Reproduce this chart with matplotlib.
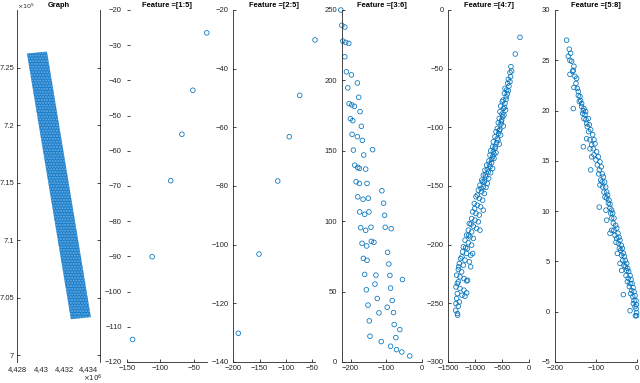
import matplotlib
matplotlib.use("Agg")
import matplotlib.pyplot as plt
from matplotlib.ticker import FuncFormatter

plt.rcParams['font.family'] = ['Liberation Sans', 'DejaVu Sans']

# --- data ---
# Graph: outline of the dense grid of coordinates (x ~ 1e6, y ~ 1e5)
band_x = [4428819, 4430508, 4434224, 4432535]
band_y = [726214, 726387, 703298, 703125]

# Feature =[1:5]
f15_x = [-141.2, -112.3, -84.8, -68.2, -52.0, -31.4]
f15_y = [-113.6, -90.1, -68.5, -55.3, -42.8, -26.5]

# Feature =[2:5]
f25_x = [-190.5, -151.2, -115.7, -93.7, -74.0, -45.0]
f25_y = [-130.2, -103.2, -78.3, -63.2, -49.1, -30.2]

# Feature =[3:6]
f36_x = [-227.5, -224.7, -221.9, -216.3, -211.7, -207.9, -204.2, -200.5, -195.8, -192.1, -188.3,
         -184.6, -179.9, -174.4, -171.6, -167.8, -164.1, -160.4, -155.7, -151.0, -147.3, -145.5,
         -216.3, -213.5, -205.1, -197.7, -196.7, -189.3, -193.9, -180.9, -179.9, -175.3, -175.3,
         -165.0, -160.4, -157.6, -154.8, -153.8,
         -180.9, -177.2, -173.4, -169.7, -166.9, -163.2, -157.6, -153.8, -150.1, -148.3, -142.7, -141.7,
         -138.0, -111.9, -107.2, -104.4, -102.6, -85.8, -134.3, -96.0, -92.3, -128.7, -89.5, -54.1,
         -131.5, -87.6, -124.9, -83.0, -97.0, -120.3, -79.3, -77.4, -61.5, -113.8, -72.7, -87.6,
         -70.9, -55.9, -33.6]
f36_y = [250.0, 239.1, 227.9, 216.8, 206.1, 194.7, 183.5, 172.8, 161.7, 150.5, 139.8,
         128.0, 117.3, 106.6, 95.4, 84.3, 73.6, 62.2, 51.3, 40.4, 29.2, 18.3,
         237.9, 227.0, 226.3, 203.9, 182.6, 181.6, 171.4, 160.0, 138.2, 137.5, 126.8,
         115.6, 104.9, 93.5, 82.4, 72.2,
         198.2, 188.0, 177.8, 167.4, 157.4, 147.0, 137.0, 126.8, 116.3, 106.6, 95.7, 85.7,
         150.8, 121.6, 112.8, 104.2, 95.7, 94.7, 85.0, 77.9, 69.6, 61.7, 61.5, 58.6,
         55.3, 52.5, 45.1, 43.7, 38.9, 34.9, 35.1, 26.6, 23.0, 14.5, 17.3, 11.2,
         8.8, 7.1, 4.3]

# Feature =[4:7]
f47_x = [-173, -259, -340, -327, -358, -389, -358, -401, -451, -420, -389, -463, -426, -488,
         -500, -451, -531, -481, -438, -543, -506, -469, -556, -512, -574, -525, -481, -593,
         -543, -617, -568, -531, -636, -593, -667, -605, -556, -679, -636, -716, -667, -617,
         -728, -679, -654, -747, -698, -790, -728, -679, -821, -759, -716, -852, -803, -753,
         -883, -833, -778, -914, -852, -803, -944, -883, -833, -988, -926, -864, -1019, -963,
         -901, -852, -1049, -988, -926, -1068, -1006, -944, -1111, -1037, -975, -1130, -1068,
         -914, -1161, -1099, -1037, -1191, -1130, -1068, -1222, -1148, -1235, -1161, -1086,
         -1049, -1272, -1191, -1111, -1296, -1222, -1086, -1315, -1253, -1346, -1284, -1210,
         -1161, -1315, -1358, -1284, -1210, -1333, -1247, -1191, -1346, -1296, -1315, -1364,
         -1333, -1327,
         -346, -377, -407, -432, -457, -494, -519, -556, -580, -630, -654, -698, -741, -778,
         -815, -864, -895, -963, -1012, -1080, -1124, -1179, -1247, -1309, -1333, -1358,
         -1161, -1142]
f47_y = [-23.3, -37.5, -48.3, -52.0, -53.2, -59.1, -61.1, -62.5, -66.8, -68.2, -68.8, -71.1,
         -73.9, -76.8, -78.2, -79.6, -81.9, -83.9, -85.3, -86.7, -88.7, -89.6, -92.4, -93.8,
         -96.1, -97.2, -98.9, -100.9, -101.8, -103.8, -105.2, -106.6, -108.0, -109.5, -112.3,
         -113.2, -114.3, -116.6, -118.0, -120.0, -120.8, -121.7, -123.7, -125.1, -126.5,
         -128.5, -130.2, -132.2, -133.6, -135.0, -136.5, -137.9, -138.7, -140.7, -142.2,
         -143.6, -145.0, -146.4, -147.8, -149.3, -150.7, -151.2, -153.5, -154.9, -156.4,
         -159.2, -160.6, -162.1, -164.9, -166.3, -167.7, -170.6, -172.0, -173.4, -174.8,
         -177.7, -179.1, -180.5, -182.0, -184.2, -186.2, -187.6, -189.1, -187.6, -191.9,
         -193.3, -194.7, -196.2, -198.4, -200.4, -201.9, -203.3, -206.1, -207.5, -209.0,
         -207.5, -211.8, -213.2, -214.6, -216.1, -217.5, -218.9, -221.2, -223.2, -226.0,
         -227.4, -228.9, -230.9, -231.7, -236.0, -237.4, -238.8, -241.7, -243.1, -243.9,
         -245.9, -248.8, -252.5, -255.9, -258.7, -260.1,
         -56.9, -64.8, -71.6, -76.2, -83.0, -91.0, -95.2, -102.9, -110.9, -116.6, -122.8,
         -127.4, -131.3, -135.9, -140.7, -146.4, -152.1, -157.8, -169.2, -182.5, -191.9,
         -202.4, -210.4, -218.9, -233.1, -250.2, -241.1, -230.3]

# Feature =[5:8]
f58_x = [-171.6, -165.0, -167.5, -161.8, -163.4, -163.4, -153.6, -155.2, -151.1, -147.1, -153.6,
         -145.4, -143.0, -138.9, -137.3, -140.5, -155.2, -134.8, -130.7, -132.4, -126.6, -124.2,
         -129.1, -122.6, -120.9, -117.6, -122.6, -114.4, -110.3, -114.4, -106.2, -130.7, -104.6,
         -110.3, -99.7, -112.7, -96.4, -91.5, -93.1, -88.2, -85.0, -89.9, -83.3, -80.1, -91.5,
         -77.6, -73.5, -69.4, -75.2, -65.4, -63.7, -73.5, -61.3, -57.2, -61.3, -55.6, -65.4,
         -53.1, -49.0, -50.7, -44.9, -42.5, -47.4, -39.2, -36.8, -40.9, -34.3, -31.0, -36.8,
         -27.8, -24.5, -26.1, -20.4, -22.9, -16.3, -18.0, -12.3, -14.7, -32.7, -9.8, -6.5,
         -8.2, -4.1, -16.3, -1.6, -0.3, -0.5, -3.3,
         -159.3, -156.9, -148.7, -143.0, -134.8, -129.1, -125.0, -118.5, -116.0, -112.7, -107.8,
         -104.6, -102.1, -98.0, -94.0, -89.9, -86.6, -84.2, -81.7, -78.4, -76.0, -73.5, -71.1,
         -67.8, -65.4, -61.3, -58.8, -55.6, -51.5, -49.0, -45.8, -43.3, -40.9, -37.6, -35.1,
         -32.7, -30.2, -27.8, -24.5, -22.1, -19.6, -16.3, -13.9, -11.4, -9.0, -6.5, -4.1,
         -1.6, -0.8]
f58_y = [27.0, 26.1, 25.4, 25.7, 25.0, 23.6, 24.4, 24.0, 23.4, 23.2, 22.3,
         22.2, 21.9, 21.4, 21.0, 20.9, 20.2, 20.4, 20.0, 19.7, 19.6, 19.1,
         19.2, 18.7, 18.4, 17.9, 17.2, 17.1, 16.6, 16.2, 16.2, 16.4, 15.6,
         15.4, 15.1, 14.1, 14.6, 14.1, 13.7, 13.1, 12.9, 12.6, 12.4, 11.9, 10.4,
         11.4, 11.3, 10.8, 10.1, 10.3, 9.8, 9.1, 9.3, 8.8, 8.1, 8.1, 7.8,
         7.6, 7.3, 6.9, 6.8, 6.3, 5.8, 6.1, 5.6, 4.8, 5.1, 4.6, 4.1,
         4.5, 4.1, 3.6, 3.3, 3.0, 2.8, 2.5, 2.1, 1.8, 1.7, 1.5, 1.1,
         0.8, 0.5, 0.1, 0.3, -0.1, -0.4, -0.4,
         24.9, 23.9, 22.7, 21.5, 20.7, 20.2, 19.9, 19.2, 18.6, 18.1, 17.6,
         17.1, 16.7, 15.9, 15.4, 14.9, 14.4, 13.7, 13.4, 12.9, 12.4, 11.9, 11.6,
         11.1, 10.7, 10.1, 9.8, 9.3, 8.6, 8.3, 7.8, 7.4, 7.1, 6.6, 6.3,
         5.8, 5.5, 5.1, 4.8, 4.3, 4.0, 3.6, 3.2, 2.8, 2.4, 2.0, 1.6,
         1.1, 0.7]

titles = ['Graph', 'Feature =[1:5]', 'Feature =[2:5]', 'Feature =[3:6]', 'Feature =[4:7]', 'Feature =[5:8]']

# --- figure ---
W, H = 640, 383
fig = plt.figure(figsize=(W / 100, H / 100), dpi=100)
fig.patch.set_facecolor('white')

# [left px, right px] of each panel; all share top 10 px and bottom 362 px
cols = [(17.3, 100.0), (126.7, 207.0), (233.3, 315.0), (341.7, 421.7), (448.3, 529.3), (555.0, 636.7)]
top_px, bot_px = 10.0, 362.0
axes = []
for l, r in cols:
    ax = fig.add_axes([l / W, (H - bot_px) / H, (r - l) / W, (bot_px - top_px) / H])
    axes.append(ax)

dark = '#262626'
blue = '#0072BD'

for ax, t in zip(axes, titles):
    for s in ax.spines.values():
        s.set_color(dark)
        s.set_linewidth(0.6)
    ax.spines['top'].set_visible(False)
    ax.spines['right'].set_visible(False)
    ax.tick_params(direction='in', length=2.2, width=0.6, labelsize=5.5, colors=dark, pad=3.5)
    ax.tick_params(axis='x', pad=2.5)
    ax.set_title(t, fontsize=5.4, fontweight='bold', pad=2, color='black')

# Graph
ax = axes[0]
ax.fill(band_x, band_y, facecolor='#1a7dc9', edgecolor='#6fb0e4', hatch='......', linewidth=0)
ax.set_xlim(4.428e6, 4.435e6)
ax.set_ylim(6.994e5, 7.3e5)
ax.spines['right'].set_visible(True)
ax.spines['bottom'].set_visible(False)
ax.set_xticks([4.428e6, 4.430e6, 4.432e6, 4.434e6])
ax.xaxis.set_major_formatter(FuncFormatter(lambda v, p: ('%.3f' % (v / 1e6)).rstrip('0').replace('.', ',')))
ax.set_yticks([7.0e5, 7.05e5, 7.1e5, 7.15e5, 7.2e5, 7.25e5])
ax.yaxis.set_major_formatter(FuncFormatter(lambda v, p: ('%.2f' % (v / 1e5)).rstrip('0').rstrip('.')))
ax.tick_params(axis='y', right=True, pad=2.2)
ax.tick_params(axis='x', length=0, pad=3)
ax.text(0.0, 0.997, r'$\times10^5$', transform=ax.transAxes, ha='left', va='bottom', fontsize=4.6, color=dark)
ax.text(0.80, -0.03, r'$\times10^6$', transform=ax.transAxes, ha='left', va='top', fontsize=5, color=dark)

mk = dict(s=11, facecolors='none', edgecolors=blue, linewidths=0.55, clip_on=False)

ax = axes[1]
ax.scatter(f15_x, f15_y, **mk)
ax.spines['left'].set_visible(False)
ax.set_xlim(-150, -31)
ax.set_ylim(-120, -20)
ax.set_xticks([-150, -100, -50])
ax.set_yticks(range(-120, -19, 10))

ax = axes[2]
ax.scatter(f25_x, f25_y, **mk)
ax.set_xlim(-200, -45)
ax.set_ylim(-140, -20)
ax.set_xticks([-200, -150, -100, -50])
ax.set_yticks(range(-140, -19, 20))

ax = axes[3]
ax.scatter(f36_x, f36_y, **mk)
ax.set_xlim(-225, 0)
ax.set_ylim(0, 250)
ax.set_xticks([-200, -100, 0])
ax.set_yticks(range(0, 251, 50))

ax = axes[4]
ax.scatter(f47_x, f47_y, **mk)
ax.set_xlim(-1500, 0)
ax.set_ylim(-300, 0)
ax.set_xticks([-1500, -1000, -500, 0])
ax.set_yticks(range(-300, 1, 50))

ax = axes[5]
ax.scatter(f58_x, f58_y, **mk)
ax.set_xlim(-200, 0)
ax.set_ylim(-5, 30)
ax.set_xticks([-200, -100, 0])
ax.set_yticks(range(-5, 31, 5))

fig.savefig('out.png', dpi=100, facecolor='white')
